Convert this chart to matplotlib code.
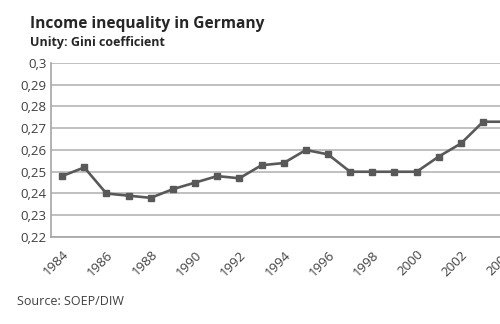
import matplotlib.pyplot as plt
from matplotlib.ticker import FuncFormatter, MultipleLocator

years = list(range(1984, 2005))
gini = [0.248, 0.252, 0.240, 0.239, 0.238, 0.242, 0.245, 0.248, 0.247, 0.253,
        0.254, 0.260, 0.258, 0.250, 0.250, 0.250, 0.250, 0.257, 0.263, 0.273,
        0.273]
tick_years = list(range(1984, 2005, 2))

TXT = "#404040"
plt.rcParams["font.family"] = ["Open Sans", "DejaVu Sans"]

fig = plt.figure(figsize=(5.0, 3.24), dpi=100)
W, H = 500, 324
# plot area runs off the right edge, as in the cropped original
left, right, top, bottom = 51, 521, 63, 237
ax = fig.add_axes([left / W, 1 - bottom / H, (right - left) / W, (bottom - top) / H])

ax.plot(years, gini, color="#595959", lw=1.9, marker="s", ms=4.5,
        clip_on=False, zorder=3)

ax.set_ylim(0.22, 0.30)
ax.set_xlim(1983.5, 1983.5 + (right - left) / 22.16)
ax.yaxis.set_major_locator(MultipleLocator(0.01))
ax.yaxis.set_major_formatter(FuncFormatter(lambda v, p: f"{v:.2f}".rstrip("0").replace(".", ",")))
ax.set_xticks(tick_years)
ax.set_xticklabels([str(y) for y in tick_years], rotation=45, ha="right",
                   rotation_mode="anchor")
ax.tick_params(axis="both", length=0, labelsize=9.5, colors=TXT)
ax.tick_params(axis="y", pad=3)
ax.tick_params(axis="x", pad=8)

ax.grid(axis="y", color="#c0c0c0", lw=1.4)
ax.set_axisbelow(True)
for s in ["top", "right"]:
    ax.spines[s].set_visible(False)
for s in ["left", "bottom"]:
    ax.spines[s].set_color("#a6a6a6")
    ax.spines[s].set_linewidth(1.2)

fig.text(30 / W, 1 - 28 / H, "Income inequality in Germany", fontsize=11.2,
         fontweight="bold", color="#262626", va="baseline")
fig.text(30 / W, 1 - 46 / H, "Unity: Gini coefficient", fontsize=9,
         fontweight="bold", color="#262626", va="baseline")
fig.text(17 / W, 1 - 305 / H, "Source: SOEP/DIW", fontsize=9, color=TXT,
         va="baseline")

fig.savefig("out.png", dpi=100)
